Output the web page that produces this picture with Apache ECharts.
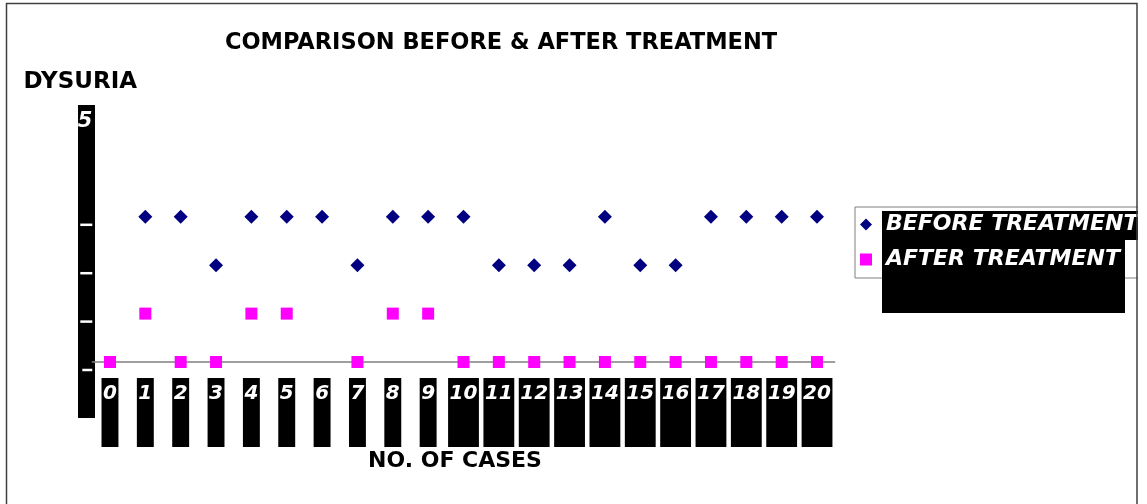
<!DOCTYPE html>
<html>
<head>
<meta charset="utf-8">
<script src="https://cdn.jsdelivr.net/npm/echarts@6/dist/echarts.min.js"></script>
<style>
html,body{margin:0;padding:0;background:#fff;}
#c{width:1147px;height:504px;}
</style>
</head>
<body>
<div id="c"></div>
<script>
// ---- data ----
var cases = ['0','1','2','3','4','5','6','7','8','9','10','11','12','13','14','15','16','17','18','19','20'];
var beforeTreatment = [null,3,3,2,3,3,3,2,3,3,3,2,2,2,3,2,2,3,3,3,3];
var afterTreatment  = [0,1,0,0,1,1,null,0,1,1,0,0,0,0,0,0,0,0,0,0,0];
var yTicks = [0,1,2,3,4,5];
var titleText = 'COMPARISON BEFORE & AFTER TREATMENT';
var yName = 'DYSURIA';
var xName = 'NO. OF CASES';
var seriesNames = ['BEFORE TREATMENT','AFTER TREATMENT'];

var FONT = 'DejaVu Sans';
var chart = echarts.init(document.getElementById('c'), null, {renderer:'canvas'});

var option = {
  animation: false,
  backgroundColor: '#fff',
  title: {
    text: titleText,
    left: 496,
    top: 27,
    textAlign: 'center',
    textStyle: {fontFamily: FONT, fontWeight: 'bold', fontSize: 22.5, color: '#000'}
  },
  grid: {left: 92.3, top: 120, width: 742.4, height: 242},
  legend: {
    orient: 'vertical',
    left: 855,
    top: 207,
    padding: [5, 40, 6, 5],
    itemGap: 10,
    itemWidth: 12,
    itemHeight: 12,
    borderColor: '#808080',
    borderWidth: 1,
    data: [
      {name: seriesNames[0], icon: 'diamond'},
      {name: seriesNames[1], icon: 'rect'}
    ],
    textStyle: {fontFamily: FONT, fontWeight: 'bold', fontStyle: 'italic', fontSize: 22, color: '#fff', padding: [0,0,0,9], lineHeight: 25}
  },
  xAxis: {
    type: 'category',
    data: cases,
    boundaryGap: true,
    name: xName,
    nameLocation: 'middle',
    nameGap: 88,
    nameTextStyle: {fontFamily: FONT, fontWeight: 'bold', fontSize: 22, color: '#000', padding: [0, 17, 0, 0]},
    axisLine: {lineStyle: {color: '#808080', width: 1.5}},
    axisTick: {alignWithLabel: true, length: 4, lineStyle: {color: '#808080', width: 1.5}},
    axisLabel: {
      margin: 16,
      interval: 0,
      fontFamily: FONT, fontWeight: 'bold', fontStyle: 'italic', fontSize: 20, color: '#fff',
      backgroundColor: '#000',
      lineHeight: 21,
      padding: [5, 1.5, 43, 1.5]
    },
    splitLine: {show: false}
  },
  yAxis: {
    type: 'value',
    min: 0, max: 5, interval: 1,
    name: yName,
    nameLocation: 'end',
    nameGap: 26,
    nameTextStyle: {fontFamily: FONT, fontWeight: 'bold', fontSize: 23, color: '#000', align: 'center', padding: [0, 24, 0, 0]},
    axisLine: {show: false},
    axisTick: {show: false},
    splitLine: {show: false},
    axisLabel: {
      margin: 0,
      fontFamily: FONT, fontWeight: 'bold', fontStyle: 'italic', fontSize: 21, color: '#fff',
      formatter: function (v) {
        if (v === 5) return '{f|' + v + '}';
        if (v === 4) return '';
        if (v === 0) return '{s| }\n{z|}';
        return '{s| }\n{d|}';
      },
      rich: {
        f: {padding: [4, 0, 0, 0], fontFamily: FONT, fontWeight: 'bold', fontStyle: 'italic', fontSize: 21, color: '#fff'},
        s: {height: 16, lineHeight: 16, width: 12, fontSize: 8},
        d: {width: 12, height: 2.5, lineHeight: 2.5, backgroundColor: '#fff'},
        z: {width: 8, height: 2.5, lineHeight: 2.5, backgroundColor: '#fff', padding: [0, 2, 0, 0]}
      }
    }
  },
  series: [
    {
      name: seriesNames[0], type: 'scatter', data: beforeTreatment,
      symbol: 'diamond', symbolSize: 14,
      itemStyle: {color: '#000080', opacity: 1}
    },
    {
      name: seriesNames[1], type: 'scatter', data: afterTreatment,
      symbol: 'rect', symbolSize: 12,
      itemStyle: {color: '#FF00FF', opacity: 1}
    }
  ],
  graphic: {
    elements: [
      // y-axis black label strip
      {type: 'rect', z: -1, shape: {x: 78, y: 105, width: 17, height: 313}, style: {fill: '#000'}},
      // legend black text area (under legend text)
      {type: 'polygon', z: 3, shape: {points: [[882,211],[1140,211],[1140,240],[1125,240],[1125,272],[882,272]]}, style: {fill: '#000'}},
      // legend black area lower part (over legend border)
      {type: 'rect', z: 5, shape: {x: 882, y: 268, width: 243, height: 45}, style: {fill: '#000'}},
      // right clip
      {type: 'rect', z: 10, shape: {x: 1138, y: 0, width: 20, height: 504}, style: {fill: '#fff'}},
      // outer border
      {type: 'rect', z: 11, shape: {x: 6.5, y: 3.5, width: 1130.5, height: 520}, style: {fill: 'none', stroke: '#404040', lineWidth: 1.5}}
    ]
  }
};
chart.setOption(option);
</script>
</body>
</html>
